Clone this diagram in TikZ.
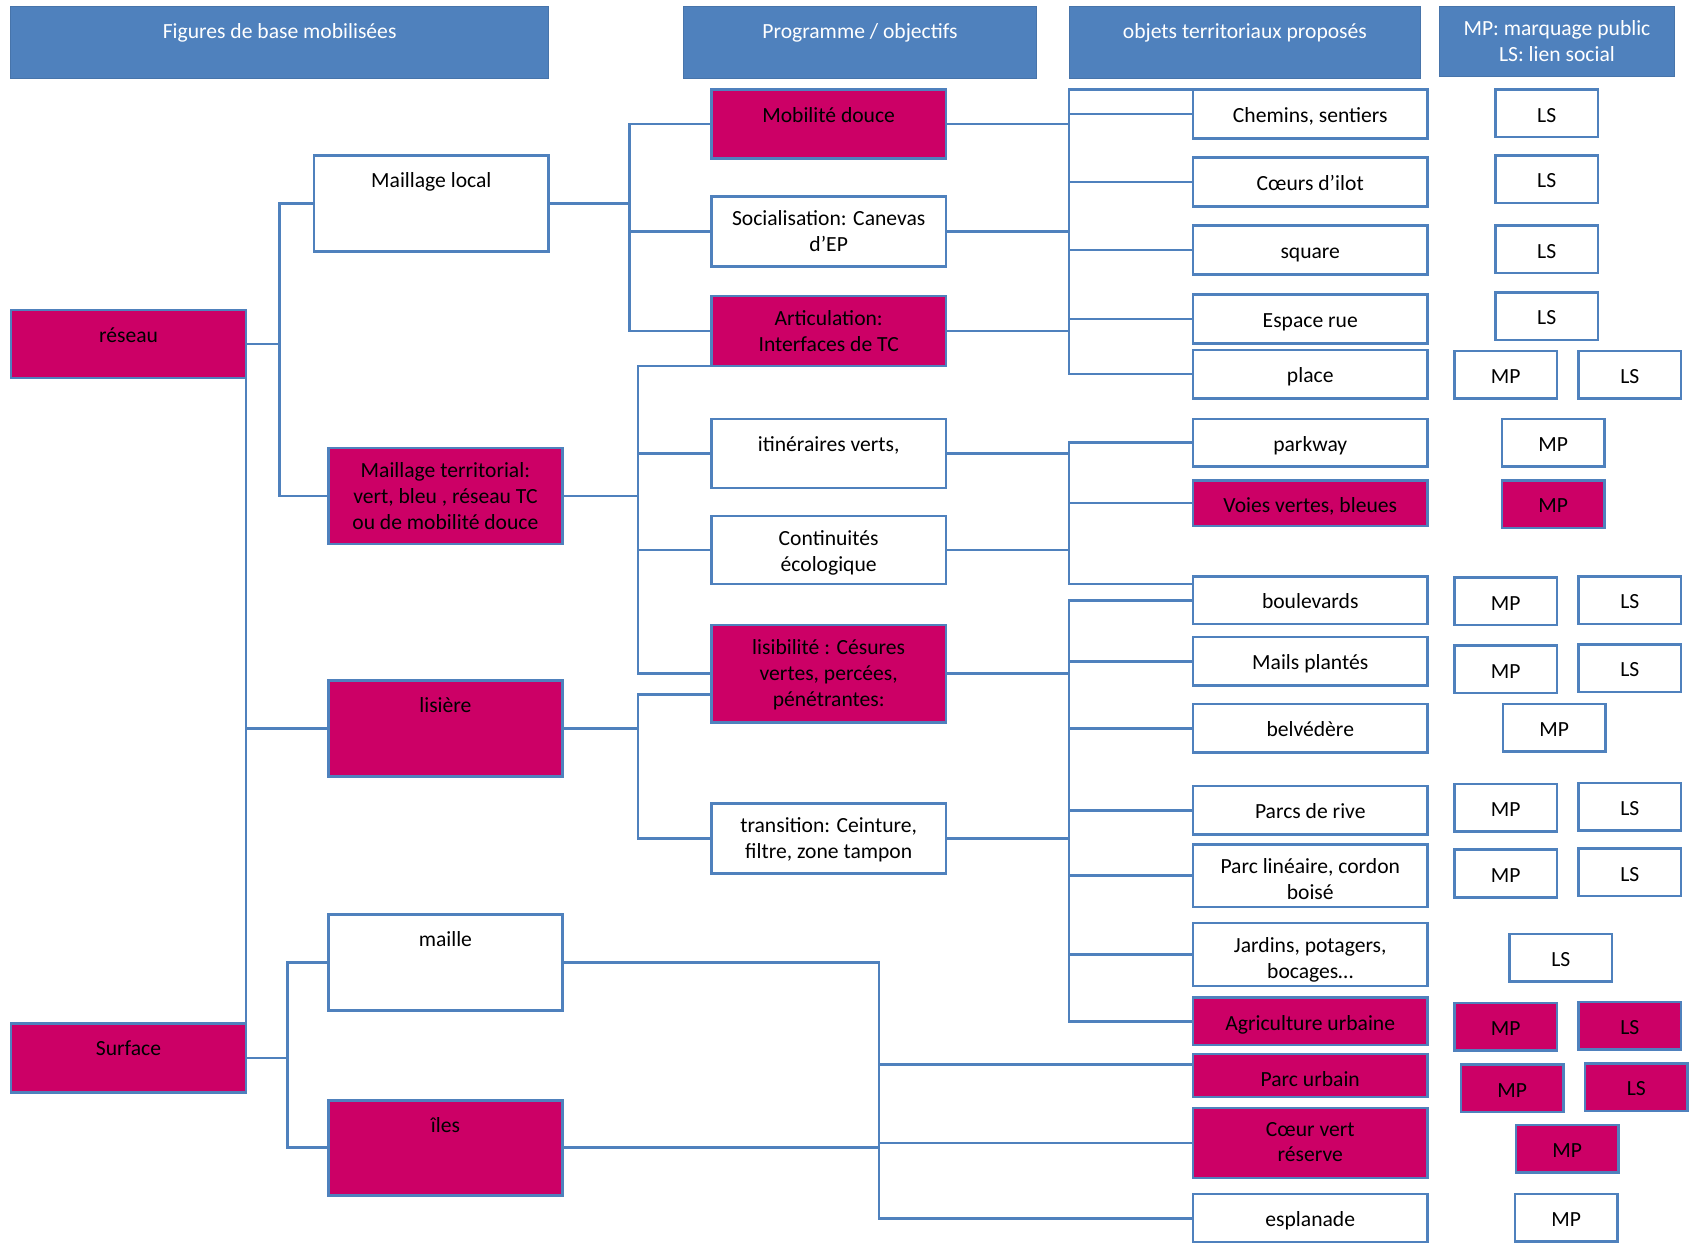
\documentclass[tikz,border=0pt]{standalone}
\usepackage{fontspec}
\setmainfont{Carlito}
\usepackage{tikz}
\usetikzlibrary{calc}
\def\Wth{2.4pt}
\def\Fnt{\fontsize{20}{24}\selectfont}
\definecolor{ClrLine}{HTML}{4F81BD}
\definecolor{ClrHead}{HTML}{4F81BD}
\definecolor{ClrMag}{HTML}{CC0066}
\tikzset{
    box/.style={
        draw=ClrLine, line width=\Wth, fill=white,
        anchor=north west, inner sep=0pt, outer sep=0pt,
        minimum width=217, minimum height=#1
    },
    box/.default=45,
    mag/.style={fill=ClrMag},
    tag/.style={box=44, minimum width=95},
    head/.style={
        fill=ClrHead, draw=ClrHead!90!black, line width=0.8pt,
        anchor=north west, inner sep=0pt, outer sep=0pt, minimum height=67
    },
    txt/.style={
        anchor=north, align=center, inner sep=0pt, yshift=-13pt,
        font=\Fnt, execute at begin node=\strut
    },
    say/.style={label={[txt]north:{#1}}},
    hsay/.style={label={[txt, text=white]north:{#1}}},
    link/.style={draw=ClrLine, line width=\Wth}
}

\begin{document}
\begin{tikzpicture}[x=1pt, y=1pt]
    \useasboundingbox (0,0) rectangle (1568,-1151);

    % column heads
    \node[head, minimum width=498, hsay={Figures de base mobilisées}] (h1) at (10,-6) {};
    \node[head, minimum width=327, hsay={Programme / objectifs}] (h2) at (633,-6) {};
    \node[head, minimum width=326, hsay={objets territoriaux proposés}] (h3) at (990,-6) {};
    \node[head, minimum width=218, minimum height=65, hsay={MP: marquage public\\LS: lien social}] (h4) at (1333,-6) {};

    % figures de base
    \node[box=63, mag, minimum width=218, say={réseau}] (reseau) at (10,-287) {};
    \node[box=64, mag, minimum width=218, say={Surface}] (surface) at (10,-948) {};

    \node[box=89, say={Maillage local}] (mlocal) at (291,-144) {};
    \node[box=89, mag, say={Maillage territorial:\\vert, bleu , réseau TC\\ou de mobilité douce}] (mterr) at (304,-415) {};
    \node[box=89, mag, say={lisière}] (lisiere) at (304,-630) {};
    \node[box=89, say={maille}] (maille) at (304,-847) {};
    \node[box=88, mag, say={îles}] (iles) at (304,-1019) {};

    % programme / objectifs
    \node[box=64, mag, say={Mobilité douce}] (mob) at (659,-83) {};
    \node[box=65, say={Socialisation: Canevas\\d’EP}] (socia) at (659,-182) {};
    \node[box=65, mag, say={Articulation:\\Interfaces de TC}] (artic) at (659,-274) {};
    \node[box=64, say={itinéraires verts,}] (itin) at (659,-388) {};
    \node[box=63, say={Continuités\\écologique}] (contin) at (659,-478) {};
    \node[box=90, mag, say={lisibilité : Césures\\vertes, percées,\\pénétrantes:}] (lisib) at (659,-579) {};
    \node[box=65, say={transition: Ceinture,\\filtre, zone tampon}] (trans) at (659,-744) {};

    % objets territoriaux
    \node[box, say={Chemins, sentiers}] (chemins) at (1105,-83) {};
    \node[box, say={Cœurs d’ilot}] (coeurs) at (1105,-146) {};
    \node[box, say={square}] (square) at (1105,-209) {};
    \node[box, say={Espace rue}] (rue) at (1105,-273) {};
    \node[box, say={place}] (place) at (1105,-324) {};
    \node[box=44, say={parkway}] (parkway) at (1105,-388) {};
    \node[box=42, mag, say={Voies vertes, bleues}] (voies) at (1105,-445) {};
    \node[box=44, say={boulevards}] (boul) at (1105,-534) {};
    \node[box, say={Mails plantés}] (mails) at (1105,-590) {};
    \node[box, say={belvédère}] (belv) at (1105,-652) {};
    \node[box, say={Parcs de rive}] (rive) at (1105,-728) {};
    \node[box=58, say={Parc linéaire, cordon\\boisé}] (lin) at (1105,-782) {};
    \node[box=58, say={Jardins, potagers,\\bocages…}] (jard) at (1105,-855) {};
    \node[box=44, mag, say={Agriculture urbaine}] (agri) at (1105,-924) {};
    \node[box=40, mag, say={Parc urbain}] (parcurb) at (1105,-976) {};
    \node[box=65, mag, say={Cœur vert\\réserve}] (coeurv) at (1105,-1026) {};
    \node[box, say={esplanade}] (espl) at (1105,-1106) {};

    % MP / LS
    \foreach \x/\y/\t/\c [count=\i] in {
        1385/83/LS/white, 1385/144/LS/white, 1385/209/LS/white, 1385/271/LS/white,
        1347/325/MP/white, 1462/325/LS/white, 1391/388/MP/white, 1391/445/MP/ClrMag,
        1347/535/MP/white, 1462/534/LS/white, 1347/598/MP/white, 1462/597/LS/white,
        1392/652/MP/white, 1347/726/MP/white, 1462/725/LS/white,
        1347/787/MP/white, 1462/786/LS/white, 1398/865/LS/white,
        1347/929/MP/ClrMag, 1462/928/LS/ClrMag, 1353/986/MP/ClrMag, 1468/985/LS/ClrMag,
        1404/1042/MP/ClrMag, 1403/1106/MP/white}{
        \node[tag, fill=\c, say=\t] (tag\i) at (\x,-\y) {};
    }

    % links
    \draw[link] (reseau.east) -- ++(31,0) coordinate (r1) |- (mlocal.west);
    \draw[link] (r1) |- (mterr.west);
    \draw[link] (reseau.south east) -- (surface.north east);
    \draw[link] (reseau.south east |- lisiere.west) -- (lisiere.west);
    \draw[link] (surface.east) -- ++(38,0) coordinate (s1) |- (maille.west);
    \draw[link] (s1) |- (iles.west);

    \draw[link] (mlocal.east) -- ++(75,0) coordinate (m1) |- (mob.west);
    \foreach \n in {socia, artic}
        \draw[link] (m1) |- (\n.west);
    \draw[link] (mterr.east) -- ++(70,0) coordinate (m2) |- (artic.south west);
    \foreach \n in {itin, contin, lisib}
        \draw[link] (m2) |- (\n.west);
    \draw[link] (lisiere.east) -- ++(70,0) coordinate (m3) |- ([yshift=-19pt]lisib.west);
    \draw[link] (m3) |- (trans.west);
    \draw[link] (maille.east) -- ++(293,0) coordinate (m4) |- ([yshift=10pt]parcurb.west);
    \foreach \n in {coeurv, espl}
        \draw[link] (m4) |- (\n.west);
    \draw[link] (iles.east) -- (iles.east -| m4);

    \draw[link] (mob.east) -- ++(114,0) coordinate (o1) |- (chemins.north west);
    \foreach \n in {chemins, coeurs, square, rue, place}
        \draw[link] (o1) |- (\n.west);
    \draw[link] (socia.east) -- (socia.east -| o1);
    \draw[link] (artic.east) -- (artic.east -| o1);

    \draw[link] (itin.east) -- ++(114,0) coordinate (o2) |- ([yshift=-7pt]boul.north west);
    \foreach \n in {parkway, voies}
        \draw[link] (o2) |- (\n.west);
    \draw[link] (contin.east) -- (contin.east -| o2);

    \draw[link] (lisib.east) -- ++(114,0) coordinate (o3);
    \foreach \n in {boul, mails, belv, rive, lin, jard, agri}
        \draw[link] (o3) |- (\n.west);
    \draw[link] (trans.east) -- (trans.east -| o3);
\end{tikzpicture}
\end{document}
